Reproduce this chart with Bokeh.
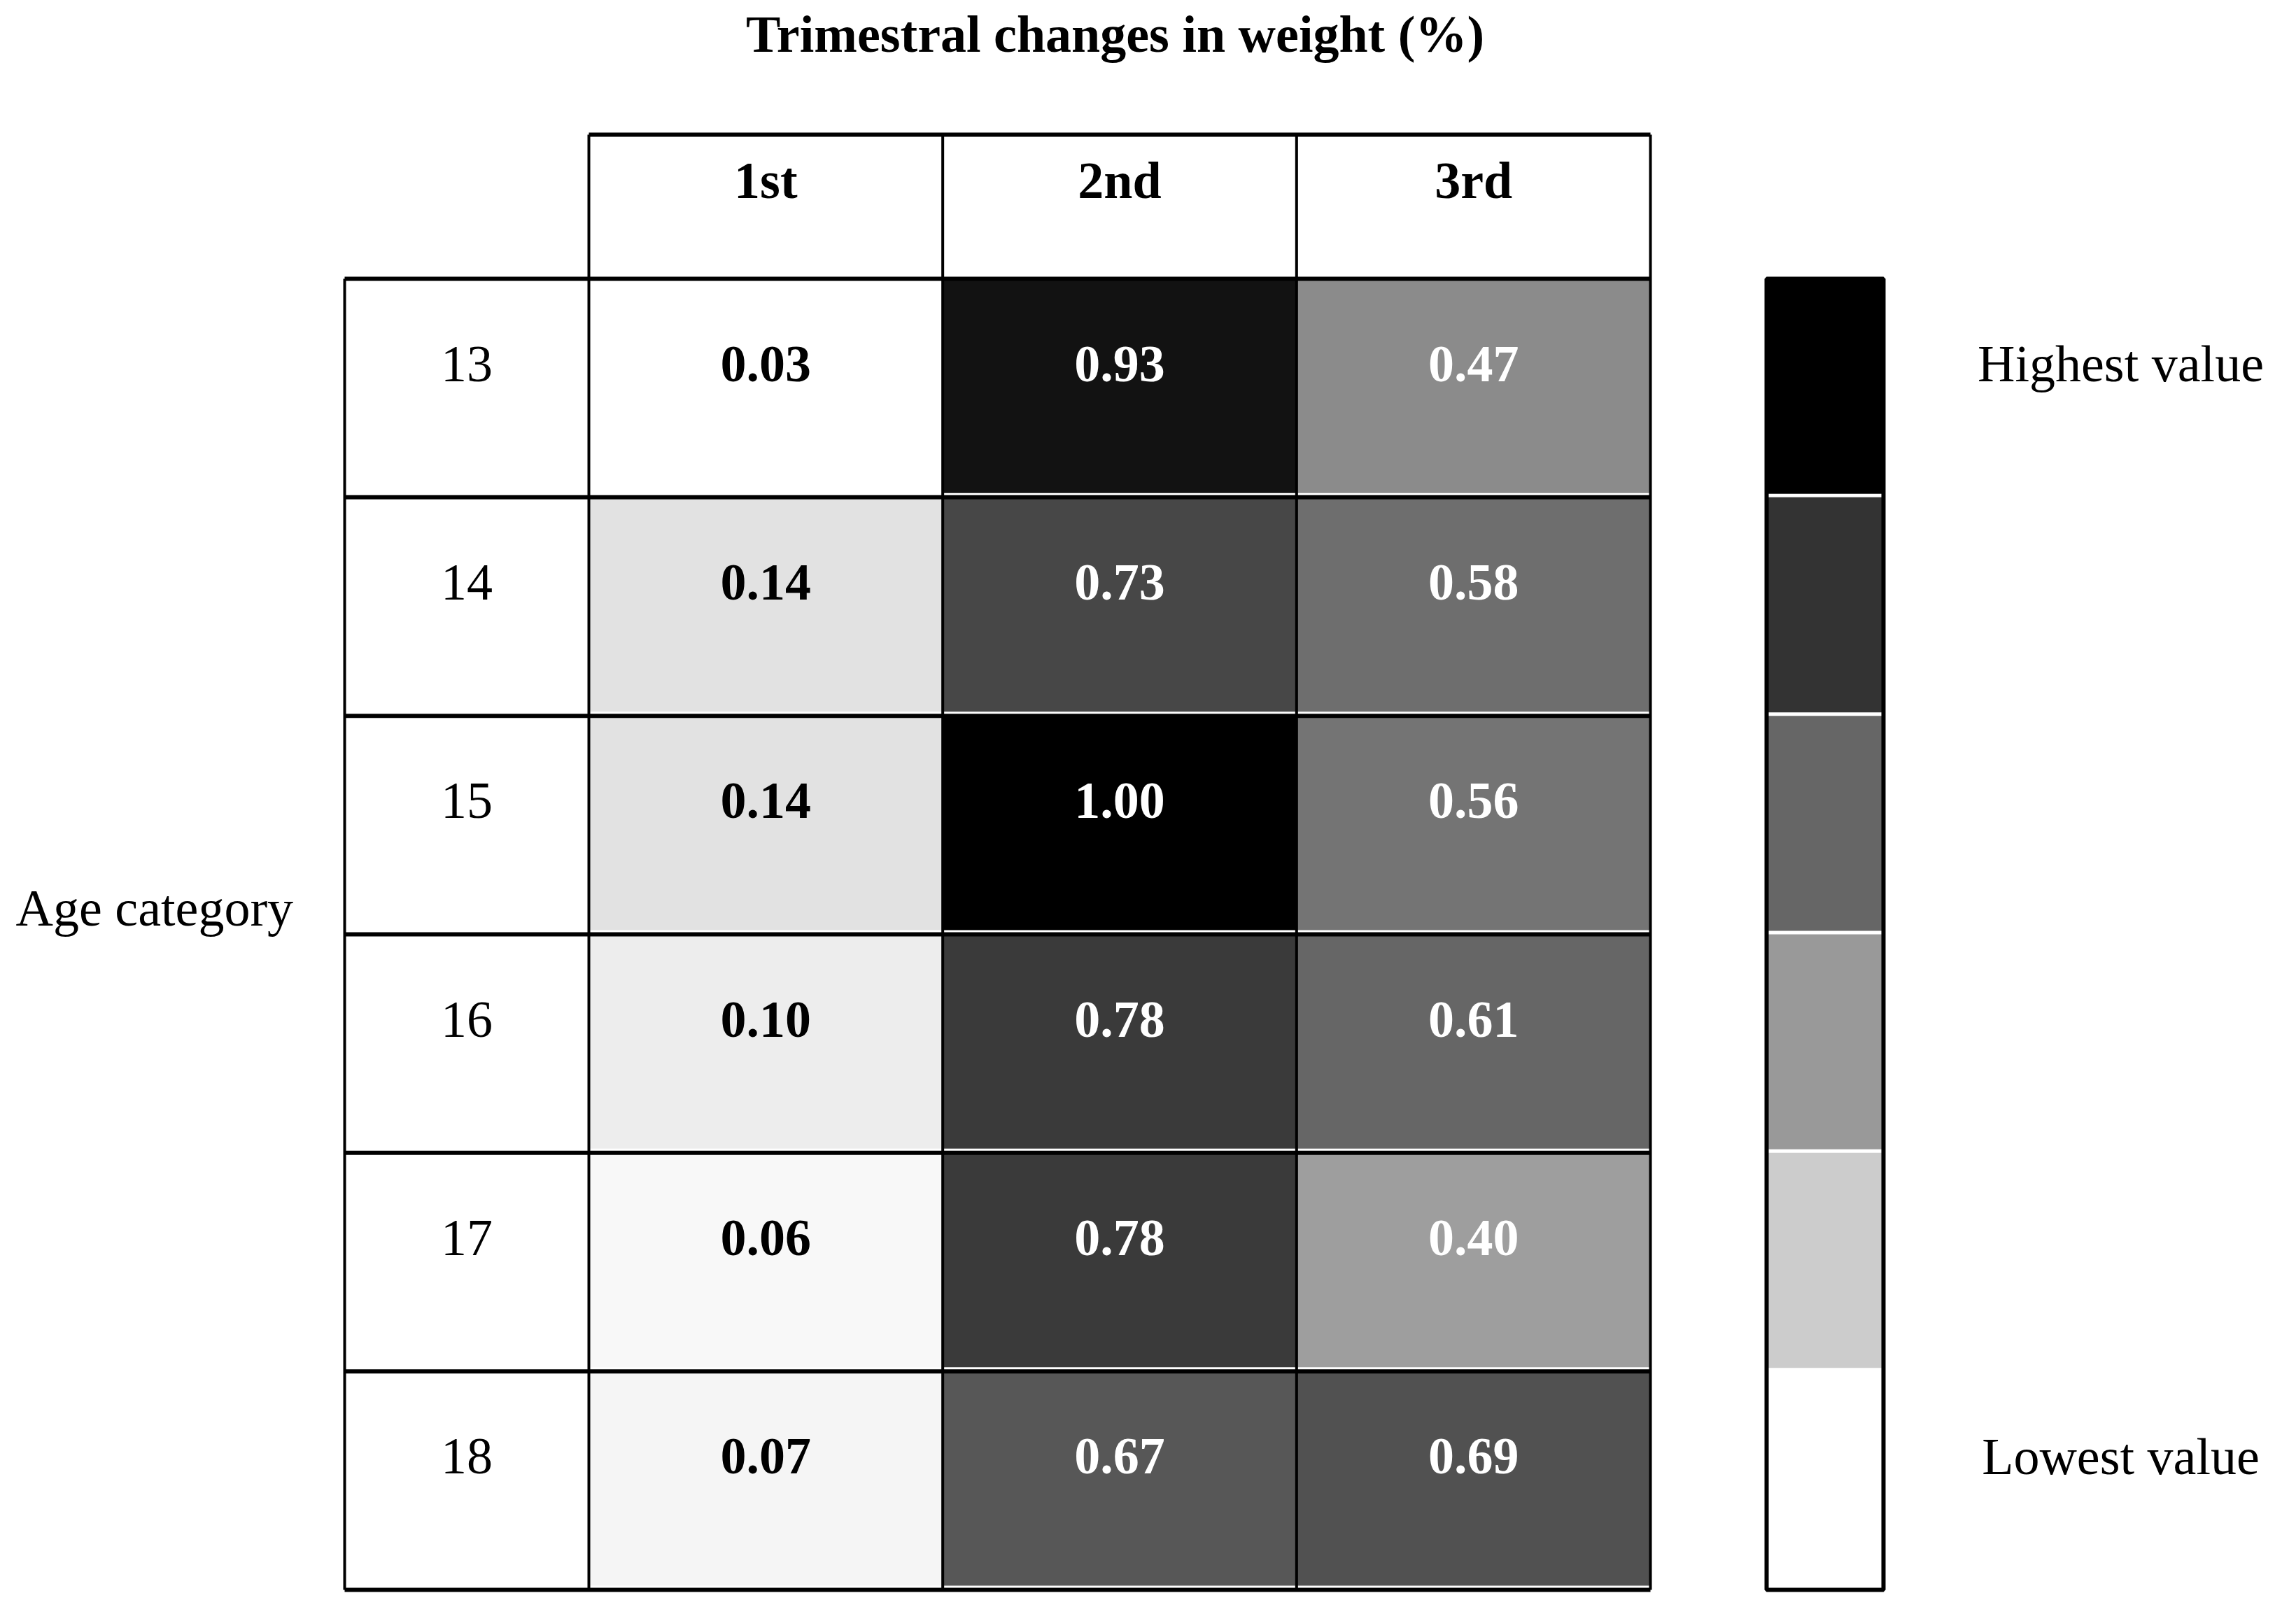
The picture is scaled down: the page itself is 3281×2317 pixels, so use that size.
import numpy as np
from bokeh.plotting import figure
from bokeh.models import ColumnDataSource, Range1d, LinearColorMapper
from bokeh.palettes import Greys256
from bokeh.core.properties import value
from bokeh.transform import transform
from bokeh.embed import file_html
from bokeh.resources import INLINE

# ---------------- data ----------------
title = "Trimestral changes in weight (%)"
trimesters = ["1st", "2nd", "3rd"]
ages = ["13", "14", "15", "16", "17", "18"]
first_tri = [0.03, 0.14, 0.14, 0.10, 0.06, 0.07]
second_tri = [0.93, 0.73, 1.00, 0.78, 0.78, 0.67]
third_tri = [0.47, 0.58, 0.56, 0.61, 0.40, 0.69]
legend_labels = ["Highest value", "Lowest value"]
n_legend_steps = 6

# ---------------- layout (page pixel coordinates) ----------------
W, H = 3265, 2301
FONT = "Liberation Serif"
FS = "74px"
x_age_l, x_tab_l, x_tab_r = 492, 841, 2358
y_head_t, y_body_t, y_body_b = 192, 398, 2272
leg_l, leg_r = 2524, 2691
gap = 6

ncol, nrow = len(trimesters), len(ages)
cw = (x_tab_r - x_tab_l) / ncol
rh = (y_body_b - y_body_t) / nrow

p = figure(width=W, height=H, x_range=Range1d(0, W), y_range=Range1d(H, 0),
           output_backend="svg", toolbar_location=None, min_border=0)
p.axis.visible = False
p.grid.visible = False
p.outline_line_color = None
p.background_fill_color = "white"

vals_all = first_tri + second_tri + third_tri
lo, hi = min(vals_all), max(vals_all)
pal = list(reversed(Greys256))
mapper = LinearColorMapper(palette=pal, low=lo, high=hi)

series = [first_tri, second_tri, third_tri]
L, R, T, B, V, XC, YC, TXT, TC = [], [], [], [], [], [], [], [], []
for j, s in enumerate(series):
    for i, v in enumerate(s):
        l = x_tab_l + j * cw
        t = y_body_t + i * rh
        L.append(l); R.append(l + cw); T.append(t); B.append(t + rh - gap)
        V.append(v); XC.append(l + cw / 2); YC.append(t + 0.39 * rh)
        TXT.append(f"{v:.2f}"); TC.append("white" if v >= 0.3 else "black")
cells = ColumnDataSource(dict(left=L, right=R, top=T, bottom=B, v=V, x=XC, y=YC, txt=TXT, tc=TC))
p.quad(left="left", right="right", top="top", bottom="bottom", source=cells,
       fill_color=transform("v", mapper), line_color=None)

# legend bar
lev = list(np.linspace(hi, lo, n_legend_steps))
lh = (y_body_b - y_body_t) / n_legend_steps
legsrc = ColumnDataSource(dict(left=[leg_l] * n_legend_steps, right=[leg_r] * n_legend_steps,
                               top=[y_body_t + k * lh for k in range(n_legend_steps)],
                               bottom=[y_body_t + (k + 1) * lh - 5 for k in range(n_legend_steps)],
                               v=lev))
p.quad(left="left", right="right", top="top", bottom="bottom", source=legsrc,
       fill_color=transform("v", mapper), line_color=None)
p.quad(left=[leg_l], right=[leg_r], top=[y_body_t], bottom=[y_body_b],
       fill_color=None, line_color="black", line_width=6)

# grid lines
hx0, hx1, hy = [], [], []
for i in range(nrow + 1):
    hx0.append(x_age_l); hx1.append(x_tab_r); hy.append(y_body_t + i * rh)
hx0.append(x_tab_l); hx1.append(x_tab_r); hy.append(y_head_t)
p.segment(x0=hx0, x1=hx1, y0=hy, y1=hy, line_color="black", line_width=6)
vx, vy0 = [x_age_l], [y_body_t]
for j in range(ncol + 1):
    vx.append(x_tab_l + j * cw); vy0.append(y_head_t)
p.segment(x0=vx, x1=vx, y0=vy0, y1=[y_body_b] * len(vx), line_color="black", line_width=4)

# texts
p.text(x="x", y="y", text="txt", source=cells, text_color="tc",
       text_font=value(FONT), text_font_size=FS, text_font_style="bold",
       text_align="center", text_baseline="middle")
p.text(x=[x_tab_l + (j + 0.5) * cw for j in range(ncol)],
       y=[y_head_t + 0.32 * (y_body_t - y_head_t)] * ncol, text=trimesters,
       text_font=value(FONT), text_font_size=FS, text_font_style="bold",
       text_align="center", text_baseline="middle", text_color="black")
p.text(x=[(x_age_l + x_tab_l) / 2] * nrow, y=[y_body_t + (i + 0.39) * rh for i in range(nrow)],
       text=ages, text_font=value(FONT), text_font_size=FS,
       text_align="center", text_baseline="middle", text_color="black")
p.text(x=[22], y=[1297], text=["Age category"], text_font=value(FONT), text_font_size=FS,
       text_align="left", text_baseline="middle", text_color="black")
p.text(x=[1593], y=[48], text=[title], text_font=value(FONT), text_font_size=FS,
       text_font_style="bold", text_align="center", text_baseline="middle", text_color="black")
p.text(x=[3030, 3030], y=[y_body_t + 0.39 * lh, y_body_t + (n_legend_steps - 1 + 0.39) * lh],
       text=legend_labels, text_font=value(FONT), text_font_size=FS,
       text_align="center", text_baseline="middle", text_color="black")

open("out.html", "w").write(file_html(p, INLINE))
